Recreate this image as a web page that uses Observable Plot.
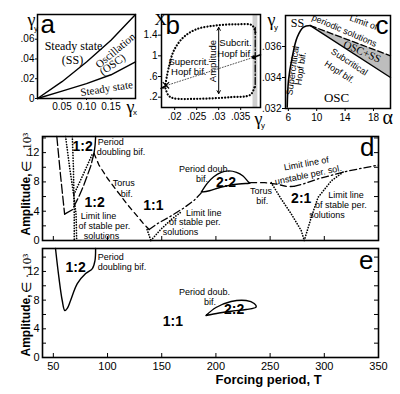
<!DOCTYPE html>
<html><head><meta charset="utf-8">
<script src="https://cdn.jsdelivr.net/npm/d3@7"></script>
<script src="https://cdn.jsdelivr.net/npm/@observablehq/plot@0.6"></script>
<style>
body{margin:0;background:#fff;}
#wrap{position:relative;width:400px;height:394px;overflow:hidden;background:#fff;}
#wrap svg{position:absolute;left:0;top:0;}
</style></head><body><div id="wrap"></div>
<script>
// ---------- Panel a ----------
const aX = [0, 0.05, 0.1, 0.15, 0.2];
const aUpper = [0, 0.017, 0.037, 0.059, 0.085];
const aLower = [0, 0.0075, 0.015, 0.024, 0.037];
const aXTicks = [0.05, 0.1, 0.15];
const aYTicks = [0, 0.02, 0.04, 0.06];
// ---------- Panel b ----------
const bUpX = [0.0179, 0.01866, 0.0198, 0.0220, 0.0251, 0.0297, 0.0342, 0.0376, 0.0384];
const bUpY = [0.458, 0.78, 1.10, 1.36, 1.52, 1.59, 1.61, 1.59, 1.43];
const bLowX = [0.0381, 0.0372, 0.0327, 0.0251, 0.0197, 0.0186, 0.0179];
const bLowY = [0.39, 0.246, 0.20, 0.168, 0.18, 0.232, 0.37];
const bRightX = [0.0383, 0.0383];
const bRightY = [1.55, 0.39];
const bSs1X = [0.0169, 0.0181], bSs1Y = [0.37, 0.425];
const bSs2X = [0.0181, 0.0380], bSs2Y = [0.425, 0.973];
const bSs3X = [0.0380, 0.0395], bSs3Y = [0.973, 1.02];
const bStrip = [0.0378, 0.0389];
const bArrowX = 0.0300, bArrowY = [0.27, 1.55];
const bXTicks = [0.02, 0.025, 0.03, 0.035];
const bYTicks = [0.2, 0.6, 1, 1.4];
// ---------- Panel c ----------
const cSupA = [5.84, 6.02, 6.54, 7.25, 8.14, 9.1];
const cSupG = [0.03209, 0.0338, 0.0353, 0.0366, 0.03725, 0.03735];
const cEdgeA = [9.1, 20.4];
const cLimG = [0.03735, 0.0354];
const cSubG = [0.03735, 0.0340];
const cXTicks = [6, 10, 14, 18];
const cYTicks = [0.032, 0.034, 0.036];
// ---------- Panel d ----------
const dLeftT = [53.2, 56.7, 60.4], dLeftA = [14.2, 8.8, 3.6];
const dRiseT = [60.4, 67.5, 73.6, 78.2, 84.4, 87.5], dRiseA = [3.6, 4.2, 6.0, 7.6, 10.1, 11.9];
const dPdT = [87.5, 88.5, 89], dPdA = [11.9, 13, 14.2];
const dDotLT = [61.3, 65, 69, 71, 71.5], dDotLA = [14.2, 10, 6, 3.5, 0];
const dDotRT = [67.5, 68.5, 69, 69.3, 69.3], dDotRA = [14.2, 10, 6, 3.5, 0];
const dDotCT = [69, 77.5, 86], dDotCA = [6.3, 9.0, 11.8];
const dTorT = [87.5, 92.1, 99.9, 109.1, 118.4, 127.6, 133.7, 138.4];
const dTorA = [11.9, 10.3, 8.5, 6.7, 4.9, 3.3, 2.2, 1.5];
const dUpT = [138.4, 146, 158, 170, 180, 186.5], dUpA = [1.5, 2.3, 3.3, 4.4, 5.5, 6.5];
const dD11LT = [136.5, 140], dD11LA = [1.5, 0];
const dD11RT = [140, 149, 159, 168], dD11RA = [0, 1.5, 2.9, 3.9];
const dLoopT = [186.5, 192, 198, 205, 212, 219, 225, 230, 231.5, 224, 214, 203, 194, 186.5];
const dLoopA = [6.6, 7.8, 8.7, 9.3, 9.5, 9.3, 8.8, 8.0, 7.85, 7.75, 7.6, 7.2, 6.8, 6.6];
const dU1T = [232, 245, 256, 266, 272], dU1A = [7.9, 7.9, 7.7, 7.35, 7.4];
const dU2T = [272, 280, 294, 310, 322, 336, 350], dU2A = [7.4, 7.7, 8.4, 9.05, 9.5, 9.9, 10.3];
const dD21LT = [251, 260.2, 269.5, 278.7, 281.5], dD21LA = [7.9, 5.67, 3.63, 1.36, 0];
const dD21RT = [281.5, 288, 294.2, 306.5, 318.8], dD21RA = [0, 3.17, 5.88, 8.15, 9.5];
// ---------- Panel e ----------
const eTongT = [52, 55.1, 58.2, 60.6, 63, 65.9, 72.1, 79.8, 86, 88.4, 89];
const eTongA = [15.2, 11.2, 7.95, 6.55, 6.9, 7.95, 10.3, 11.7, 12.4, 13.5, 15.2];
const eLoopT = [190.8, 200.1, 214, 227.9, 235.3, 237.1, 227.9, 215.8, 202.9, 190.8];
const eLoopA = [5.86, 6.97, 7.81, 7.95, 7.53, 7.04, 6.69, 6.49, 6.21, 5.86];
const tTicks = [50, 100, 150, 200, 250, 300, 350];
const ampTicks = [0, 4, 8, 12];
const ampMinor = [0, 2, 4, 6, 8, 10, 12, 14];

// ---------- helpers ----------
const W = 400, H = 394;
const SANS = "Liberation Sans, Arial, Helvetica, sans-serif";
const SERIF = "Liberation Serif, Times New Roman, serif";
const zip = (xs, ys) => xs.map((x, i) => ({x, y: ys[i]}));
const line = (xs, ys, o = {}) => Plot.line(zip(xs, ys), {x: "x", y: "y", stroke: "black", strokeWidth: 1.3, ...o});
const DOT = {strokeDasharray: "0.1,2.6", strokeLinecap: "round", strokeWidth: 1.7};
const note = (t, x, y, o = {}) => Plot.text([t], {text: d => d, x: () => x, y: () => y, fill: "black", fontSize: 9, ...o});
const lab = (P, t, px, py, o = {}) => Plot.text([t], {text: d => d, frameAnchor: "top-left", dx: px - P.left, dy: py - P.top, fill: "black", lineAnchor: "middle", ...o});
const dotFmt = d => d === 0 ? "0" : String(d).replace(/^0\./, ".");
function panel(P, x, y, marks) {
  return Plot.plot({
    width: W, height: H,
    marginLeft: P.left, marginRight: W - P.right, marginTop: P.top, marginBottom: H - P.bottom,
    x: {...x, axis: null}, y: {...y, axis: null},
    style: {background: "transparent", fontFamily: SANS, fontSize: "10px", color: "black", overflow: "visible"},
    marks
  });
}
const A = {left: 37, right: 135, top: 14, bottom: 98};
const B = {left: 161, right: 260, top: 14, bottom: 107};
const C = {left: 285, right: 390, top: 15, bottom: 108};
const D = {left: 42, right: 378, top: 136, bottom: 240};
const E = {left: 42, right: 378, top: 248, bottom: 357};
const wrap = document.getElementById("wrap");
const SUB = {fontSize: 8, textAnchor: "start"};

// ---------- a ----------
wrap.append(panel(A, {domain: [0, 0.2]}, {domain: [0, 0.085]}, [
  Plot.axisX({ticks: aXTicks, tickSize: 2, tickPadding: 2, fontSize: 10, label: null}),
  Plot.axisY({ticks: aYTicks, tickSize: 2, tickPadding: 1, fontSize: 10, label: null, tickFormat: dotFmt}),
  line(aX, aUpper, {strokeWidth: 1.4}),
  line(aX, aLower, {strokeWidth: 1.4}),
  note("Steady state", 0.0735, 0.0530, {fontFamily: SERIF, fontSize: 12}),
  note("(SS)", 0.0714, 0.0392, {fontFamily: SERIF, fontSize: 12}),
  note("Oscillation", 0.159, 0.0486, {fontFamily: SERIF, fontSize: 11, rotate: -40}),
  note("(OSC)", 0.153, 0.0344, {fontFamily: SERIF, fontSize: 11, rotate: -35}),
  note("Steady state", 0.141, 0.0101, {fontFamily: SERIF, fontSize: 11, rotate: -9}),
  Plot.frame({stroke: "black", strokeWidth: 1.5}),
  lab(A, "a", 40, 24, {fontSize: 26, textAnchor: "start"}),
  lab(A, "γ", 27, 20, {fontFamily: SERIF, fontSize: 18}),
  lab(A, "y", 33.5, 28, SUB),
  lab(A, "γ", 126, 107, {fontFamily: SERIF, fontSize: 18}),
  lab(A, "x", 132.5, 112, SUB)
]));

// ---------- b ----------
wrap.append(panel(B, {domain: [0.017, 0.0395]}, {domain: [0, 1.8]}, [
  Plot.rect([0], {x1: () => bStrip[0], x2: () => bStrip[1], fill: "#cfcfcf"}),
  Plot.axisX({ticks: bXTicks, tickSize: 3, tickPadding: 2, fontSize: 10, label: null, tickFormat: dotFmt}),
  Plot.axisY({ticks: bYTicks, tickSize: 3, tickPadding: 1, fontSize: 10, label: null, tickFormat: dotFmt}),
  line(bUpX, bUpY, {...DOT, strokeWidth: 2.2, strokeDasharray: "0.1,3", curve: "catmull-rom"}),
  line(bLowX, bLowY, {...DOT, strokeWidth: 2.2, strokeDasharray: "0.1,3", curve: "catmull-rom"}),
  line(bRightX, bRightY, {strokeDasharray: "7,2,1.5,2", strokeWidth: 1.3}),
  line(bSs1X, bSs1Y, {strokeWidth: 1.6}),
  line(bSs2X, bSs2Y, {strokeWidth: 1, strokeDasharray: "1,1.8", stroke: "#555"}),
  line(bSs3X, bSs3Y, {strokeWidth: 1.6}),
  Plot.dot([0], {x: () => bUpX[0] + 0.0001, y: () => 0.43, symbol: "times", r: 3, stroke: "black", strokeWidth: 1.2}),
  Plot.dot([0], {x: () => bSs2X[1], y: () => bSs2Y[1], r: 2, fill: "black"}),
  Plot.arrow(bArrowY.map(y => ({y})), {x1: () => bArrowX, x2: () => bArrowX, y1: () => (bArrowY[0] + bArrowY[1]) / 2, y2: "y", headLength: 5, strokeWidth: 1, stroke: "black"}),
  note("Amplitude", 0.0287, 0.9, {rotate: -90, fontSize: 9.5}),
  note("Supercrit.", 0.0232, 0.89, {fontSize: 9.5}),
  note("Hopf bif.", 0.0232, 0.69, {fontSize: 9.5}),
  note("Subcrit.", 0.0338, 1.25, {fontSize: 9.5}),
  note("Hopf bif.", 0.0337, 1.04, {fontSize: 9.5}),
  Plot.frame({stroke: "black", strokeWidth: 1.5}),
  lab(B, "b", 165, 25, {fontSize: 26, textAnchor: "start"}),
  lab(B, "X", 154, 19, {fontFamily: SERIF, fontSize: 17}),
  lab(B, "γ", 254, 119, {fontFamily: SERIF, fontSize: 18}),
  lab(B, "y", 260.5, 125, SUB)
]));

// ---------- c ----------
wrap.append(panel(C, {domain: [5.6, 20.4]}, {domain: [0.032, 0.038]}, [
  Plot.areaY(cEdgeA.map((a, i) => ({a, lo: cSubG[i], hi: cLimG[i]})), {x: "a", y1: "lo", y2: "hi", fill: "#bdbdbd"}),
  Plot.axisX({ticks: cXTicks, tickSize: 3, tickPadding: 2, fontSize: 10, label: null}),
  Plot.axisY({ticks: cYTicks, tickSize: 3, tickPadding: 1, fontSize: 10, label: null, tickFormat: dotFmt}),
  line(cSupA, cSupG, {strokeWidth: 1.6, curve: "catmull-rom"}),
  line(cEdgeA, cLimG, {strokeDasharray: "6,3", strokeWidth: 1.3}),
  line(cEdgeA, cSubG, {strokeWidth: 1.4}),
  note("SS", 7.29, 0.03748, {fontFamily: SERIF, fontSize: 12}),
  note("OSC", 12.8, 0.03271, {fontFamily: SERIF, fontSize: 13}),
  note("Limit of", 16.6, 0.03755, {rotate: 20, fontSize: 9}),
  note("periodic solutions", 13.9, 0.03702, {rotate: 23, fontSize: 9}),
  note("OSC+SS", 16.4, 0.03566, {fontFamily: SERIF, fontSize: 11, rotate: 24}),
  note("Subcritical", 14.6, 0.0350, {rotate: 33, fontSize: 9}),
  note("Hopf bif.", 13.2, 0.03435, {rotate: 33, fontSize: 9}),
  note("Supercritical", 6.62, 0.03445, {rotate: -82, fontSize: 9}),
  note("Hopf bif.", 7.75, 0.03458, {rotate: -82, fontSize: 9}),
  Plot.frame({stroke: "black", strokeWidth: 1.5}),
  lab(C, "c", 388, 25, {fontSize: 26, textAnchor: "end"}),
  lab(C, "γ", 267, 20, {fontFamily: SERIF, fontSize: 18}),
  lab(C, "y", 273.5, 27, SUB),
  lab(C, "α", 382, 117, {fontFamily: SERIF, fontSize: 20})
]));

// ---------- d ----------
const dW = D.right - D.left, dH = D.bottom - D.top;
const S = {textAnchor: "start", fontSize: 9};
wrap.append(panel(D, {domain: [40, 350]}, {domain: [0, 14.2]}, [
  Plot.tickY(ampMinor, {y: d => d, insetRight: dW - 4, stroke: "black"}),
  Plot.tickY(ampMinor, {y: d => d, insetLeft: dW - 4, stroke: "black"}),
  Plot.tickX(tTicks, {x: d => d, insetTop: dH - 4, stroke: "black"}),
  Plot.axisY({ticks: ampTicks, tickSize: 0, tickPadding: 3, fontSize: 11, label: null}),
  line(dLeftT, dLeftA, {strokeDasharray: "9,3"}),
  line(dRiseT, dRiseA, {strokeDasharray: "9,3"}),
  line(dPdT, dPdA, {strokeWidth: 1.4, curve: "catmull-rom"}),
  line(dDotLT, dDotLA, DOT),
  line(dDotRT, dDotRA, DOT),
  line(dDotCT, dDotCA, DOT),
  line(dTorT, dTorA, {strokeDasharray: "5,4"}),
  line(dUpT, dUpA, {strokeDasharray: "7,3,1.5,3"}),
  line(dD11LT, dD11LA, DOT),
  line(dD11RT, dD11RA, DOT),
  line(dLoopT, dLoopA, {strokeWidth: 1.4, curve: "catmull-rom-closed"}),
  line(dU1T, dU1A, {strokeDasharray: "6,4"}),
  line(dU2T, dU2A, {strokeDasharray: "7,3,1.5,3"}),
  line(dD21LT, dD21LA, DOT),
  line(dD21RT, dD21RA, DOT),
  note("1:2", 77, 12.8, {fontSize: 14, fontWeight: "bold"}),
  note("Period", 90.9, 13.5, S),
  note("doubling bif.", 90, 12.1, S),
  note("Torus", 115, 7.8, {fontSize: 9}),
  note("bif.", 117.7, 6.4, {fontSize: 9}),
  note("1:1", 142.3, 4.8, {fontSize: 14, fontWeight: "bold"}),
  note("1:2", 88.1, 5.15, {fontSize: 14, fontWeight: "bold"}),
  note("Limit line", 75.2, 3.35, S),
  note("of stable per.", 73.3, 2.0, S),
  note("solutions", 78, 0.65, S),
  note("Limit line", 172.3, 3.8, S),
  note("of stable per.", 156.6, 2.45, S),
  note("solutions", 151, 1.1, S),
  note("Period doub.", 165.9, 9.8, S),
  note("bif.", 181.6, 8.4, S),
  note("2:2", 209.3, 7.9, {fontSize: 14, fontWeight: "bold"}),
  note("Torus", 241.7, 6.75, {fontSize: 9}),
  note("bif.", 242.7, 5.35, {fontSize: 9}),
  note("2:1", 278.7, 5.7, {fontSize: 14, fontWeight: "bold"}),
  note("Limit line of", 283.4, 10.5, {rotate: -10, fontSize: 9}),
  note("unstable per. sol.", 285.2, 8.95, {rotate: -12, fontSize: 9}),
  note("Limit line", 303.7, 6.25, S),
  note("of stable per.", 291.5, 4.85, S),
  note("solutions", 286.2, 3.45, S),
  Plot.frame({stroke: "black", strokeWidth: 1.6}),
  lab(D, "d", 374, 147, {fontSize: 26, textAnchor: "end"}),
  lab(D, "Amplitude,", 26, 235, {rotate: -90, textAnchor: "start", fontSize: 12, fontWeight: "bold"}),
  lab(D, "∈ · 10³", 26, 171, {rotate: -90, textAnchor: "start", fontSize: 13, fontFamily: SERIF})
]));

// ---------- e ----------
const eW = E.right - E.left, eH = E.bottom - E.top;
wrap.append(panel(E, {domain: [40, 350]}, {domain: [0, 15.2]}, [
  Plot.tickY(ampMinor, {y: d => d, insetRight: eW - 4, stroke: "black"}),
  Plot.tickY(ampMinor, {y: d => d, insetLeft: eW - 4, stroke: "black"}),
  Plot.tickX(tTicks, {x: d => d, insetTop: eH - 4, stroke: "black"}),
  Plot.axisY({ticks: ampTicks, tickSize: 0, tickPadding: 3, fontSize: 11, label: null}),
  Plot.axisX({ticks: tTicks, tickSize: 0, tickPadding: 5, fontSize: 11, label: null}),
  line(eTongT, eTongA, {strokeWidth: 1.4, curve: "catmull-rom"}),
  line(eLoopT, eLoopA, {strokeWidth: 1.4, curve: "catmull-rom-closed"}),
  note("1:2", 70.5, 12.55, {fontSize: 14, fontWeight: "bold"}),
  note("Period", 90.9, 14.0, S),
  note("doubling bif.", 90.9, 12.6, S),
  note("1:1", 160.3, 5.0, {fontSize: 14, fontWeight: "bold"}),
  note("Period doub.", 165.9, 9.1, S),
  note("bif.", 189, 7.7, S),
  note("2:2", 216.8, 6.7, {fontSize: 14, fontWeight: "bold"}),
  Plot.frame({stroke: "black", strokeWidth: 1.6}),
  lab(E, "e", 373, 260, {fontSize: 26, textAnchor: "end"}),
  lab(E, "Amplitude,", 26, 356, {rotate: -90, textAnchor: "start", fontSize: 12, fontWeight: "bold"}),
  lab(E, "∈ · 10³", 26, 292, {rotate: -90, textAnchor: "start", fontSize: 13, fontFamily: SERIF}),
  lab(E, "Forcing period, T", 215, 379, {fontSize: 13, fontWeight: "bold"})
]));
</script></body></html>
